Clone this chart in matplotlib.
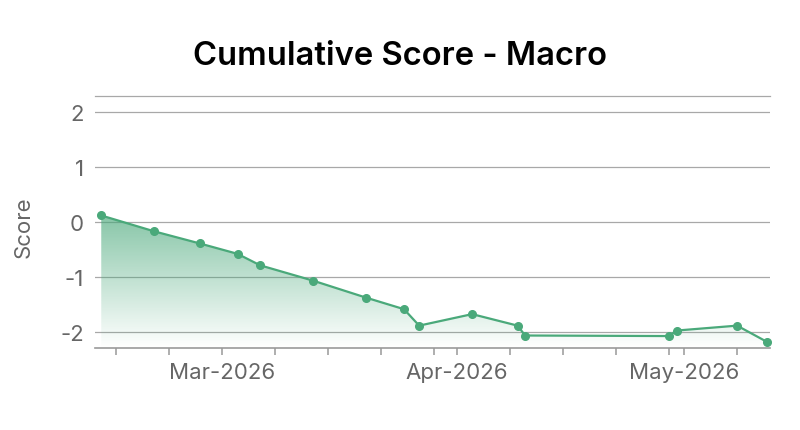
#!/usr/bin/env python3
"""Cumulative Score - Macro: line with gradient fill."""
from datetime import datetime

import matplotlib

matplotlib.use("Agg")
import matplotlib.dates as mdates
import matplotlib.pyplot as plt
import numpy as np
from matplotlib.colors import LinearSegmentedColormap

plt.rcParams["font.family"] = ["Inter", "DejaVu Sans"]

DATES = ["2026-02-13", "2026-02-20", "2026-02-26", "2026-03-03", "2026-03-06",
         "2026-03-13", "2026-03-20", "2026-03-25", "2026-03-27", "2026-04-03",
         "2026-04-09", "2026-04-10", "2026-04-29", "2026-04-30", "2026-05-08",
         "2026-05-12"]
SCORES = [0.12, -0.17, -0.39, -0.58, -0.79, -1.07, -1.38, -1.59, -1.89, -1.68,
          -1.89, -2.07, -2.08, -1.98, -1.89, -2.19]
Y_TICKS = [-2, -1, 0, 1, 2]

GREEN = "#4aa97a"
GRID = "#a8a8a8"
TXT = "#666666"

x = mdates.date2num([datetime.strptime(d, "%Y-%m-%d") for d in DATES])
y = np.array(SCORES)

fig = plt.figure(figsize=(8.0, 4.31), dpi=100)
ax = fig.add_axes([0.119, 0.19, 0.8435, 0.585])
x0, x1 = x[0] - 0.8, x[-1] + 0.35
y0, y1 = -2.3, 2.3

# gradient fill under the line, clipped to the area polygon
cmap = LinearSegmentedColormap.from_list(
    "fade", [(0.29, 0.66, 0.48, 0.66), (0.29, 0.66, 0.48, 0.0)])
poly = ax.fill_between(x, y, y0, color="none", lw=0)
grad = np.linspace(0, 1, 256).reshape(-1, 1)
img = ax.imshow(grad, cmap=cmap, aspect="auto", origin="upper",
                extent=[x0, x1, y0, y.max()], zorder=1, interpolation="bilinear")
img.set_clip_path(poly.get_paths()[0], transform=ax.transData)
ax.set_xlim(x0, x1)
ax.set_ylim(y0, y1)

ax.plot(x, y, color=GREEN, lw=1.6, marker="o", ms=5.5, zorder=3, clip_on=False)

for t in Y_TICKS:
    ax.axhline(t, color=GRID, lw=0.9, zorder=0)
ax.set_yticks(Y_TICKS)
ax.set_yticklabels([str(t) for t in Y_TICKS])

ax.xaxis.set_major_locator(mdates.MonthLocator())
ax.xaxis.set_major_formatter(mdates.DateFormatter("%b-%Y"))
ax.xaxis.set_minor_locator(mdates.DayLocator(bymonthday=[1, 8, 15, 22, 29]))

for s in ("left", "right"):
    ax.spines[s].set_visible(False)
ax.spines["top"].set_color(GRID)
ax.spines["top"].set_linewidth(0.9)
ax.spines["bottom"].set_color("#999999")
ax.spines["bottom"].set_linewidth(1.2)

ax.tick_params(axis="y", length=0, pad=8, labelsize=16, labelcolor=TXT)
ax.tick_params(axis="x", which="both", length=5, width=1.1, color="#999999",
               direction="out")
ax.tick_params(axis="x", which="major", pad=5, labelsize=16, labelcolor=TXT)

fig.text(0.5, 0.868, "Cumulative Score - Macro", ha="center", va="center",
         fontsize=23.6, fontweight="semibold", color="#000000")
fig.text(0.029, 0.473, "Score", ha="center", va="center", rotation=90,
         fontsize=16, color=TXT)

fig.savefig("out.png", dpi=100)
